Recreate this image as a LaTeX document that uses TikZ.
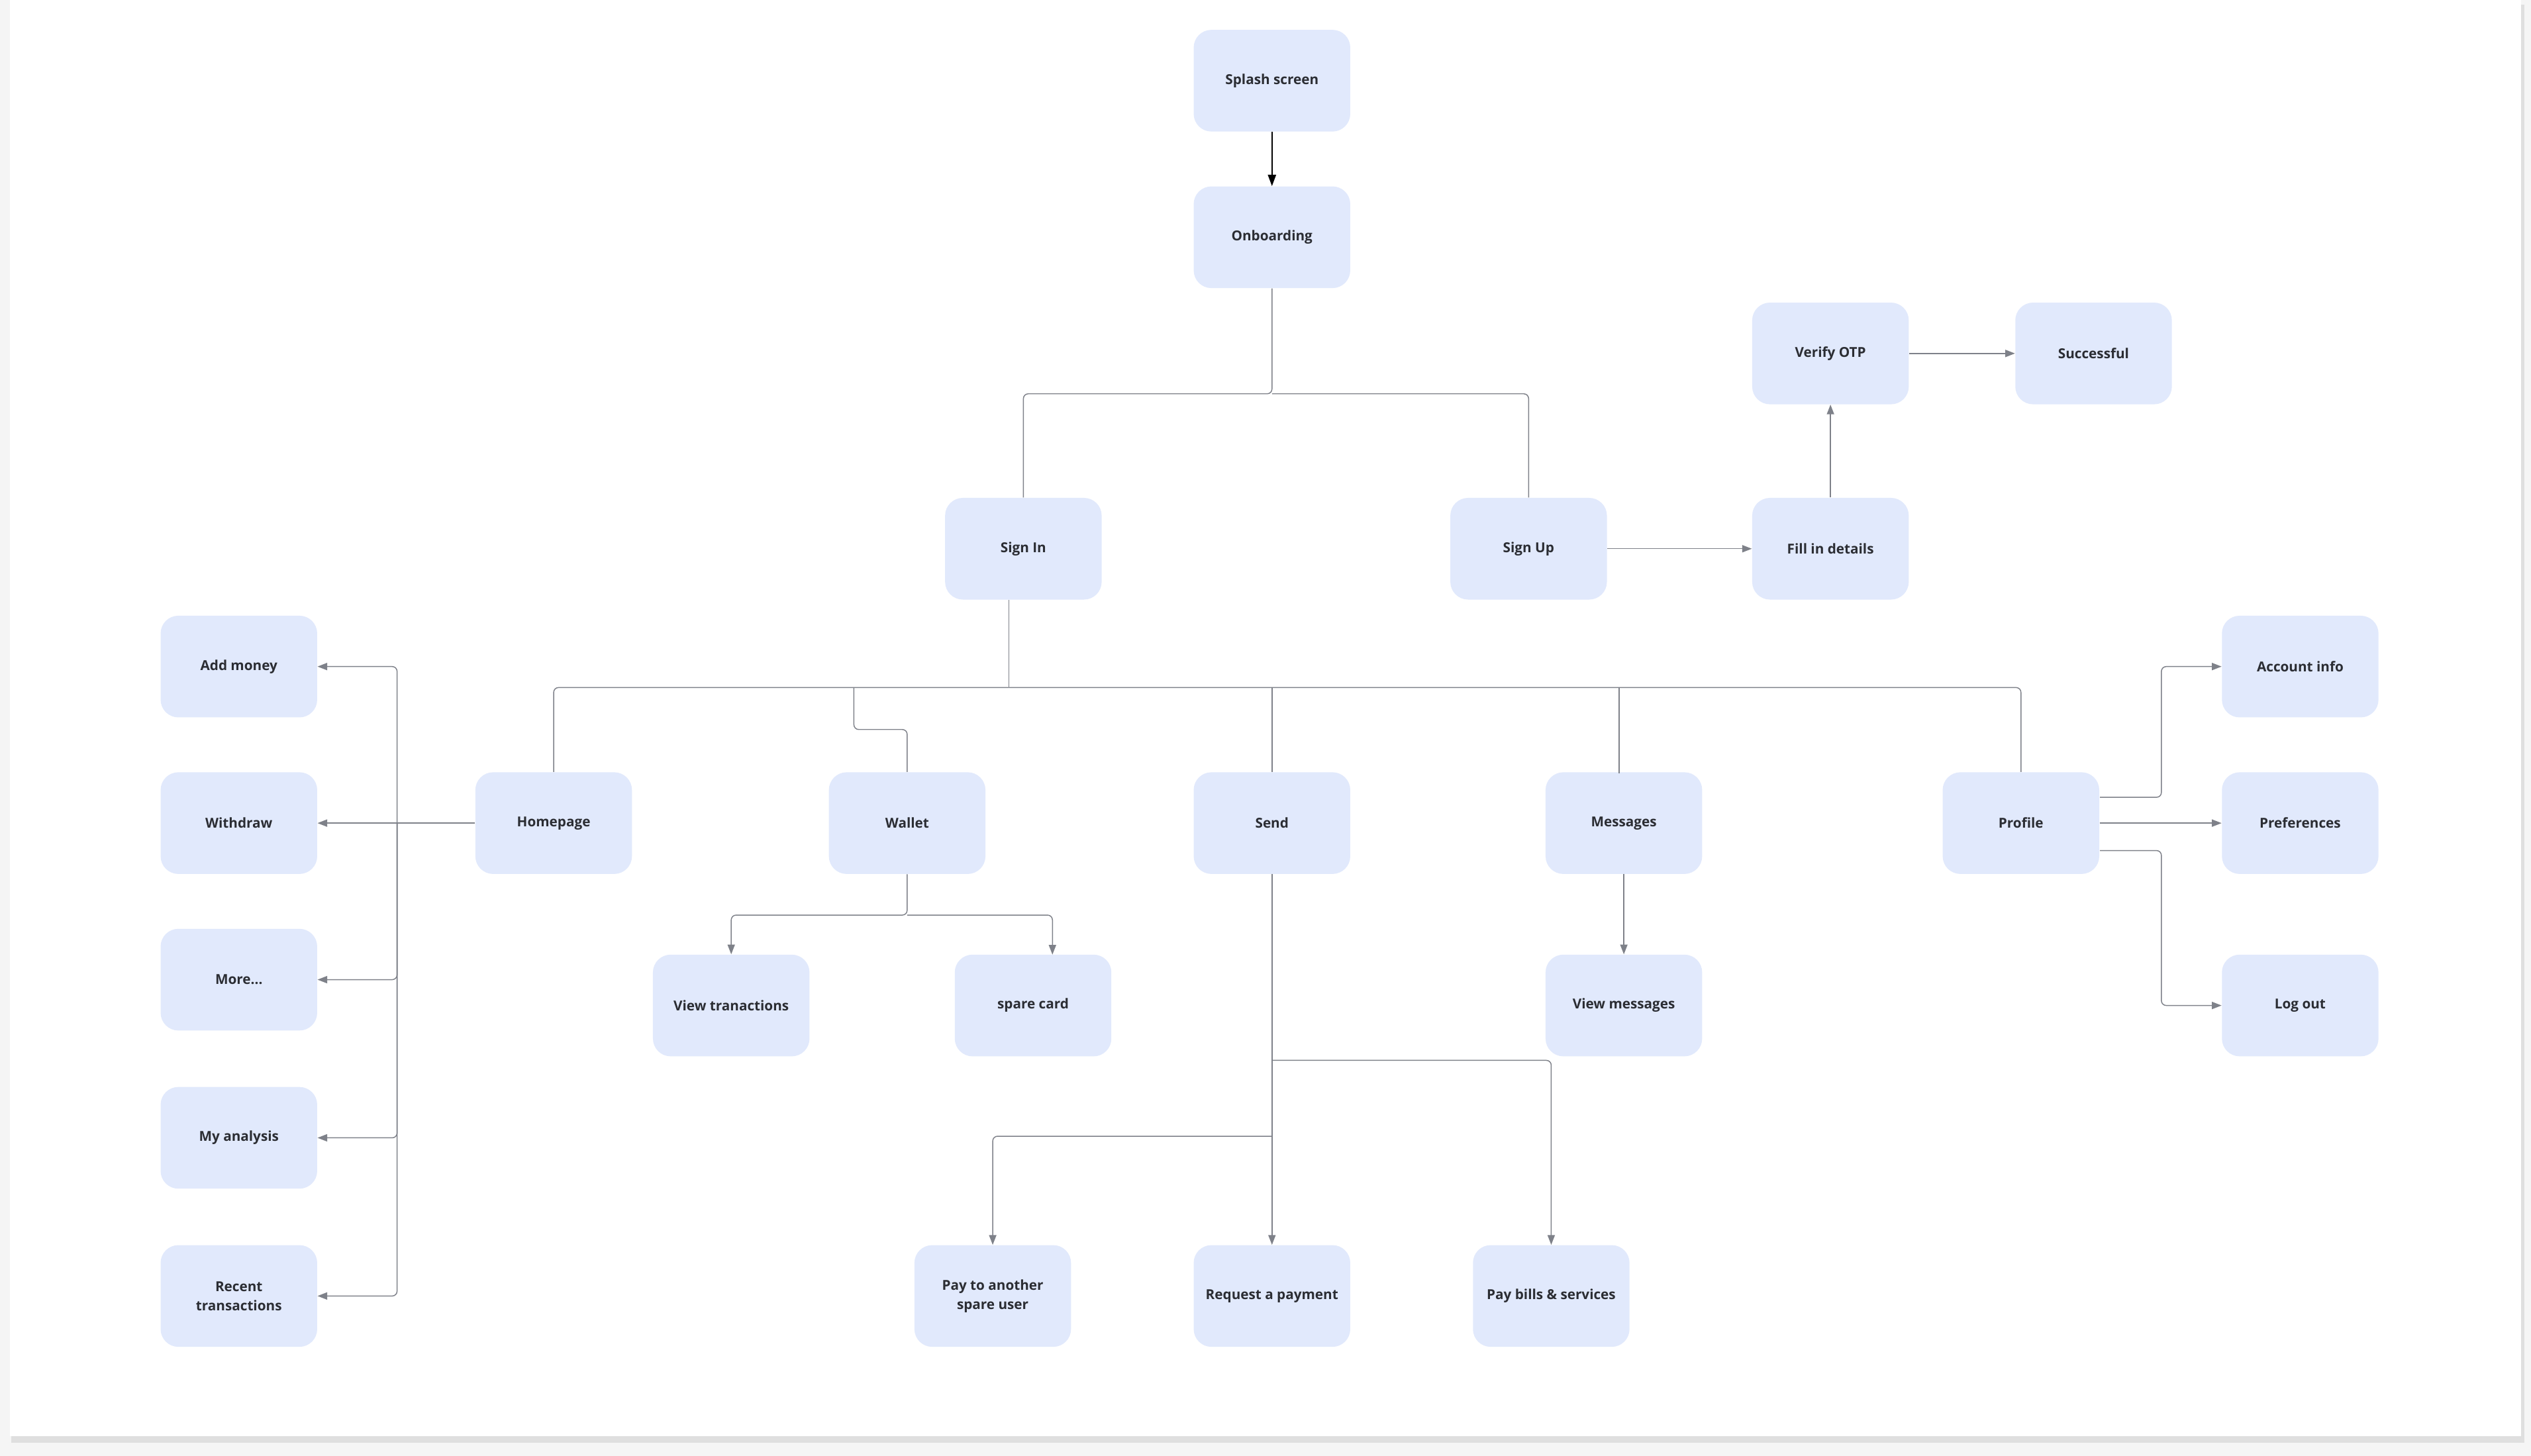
\documentclass[tikz,border=0pt]{standalone}
\usepackage{fontspec}
\setmainfont{Open Sans}
\usetikzlibrary{arrows.meta}
\definecolor{boxfill}{HTML}{E1E9FC}
\definecolor{txt}{HTML}{2B2D33}
\definecolor{ln}{HTML}{7E8189}
\begin{document}
\begin{tikzpicture}[x=1pt,y=-1pt,
  box/.style={fill=boxfill,rounded corners=11pt,minimum width=97pt,minimum height=63pt,align=center,font=\fontsize{8.5}{12}\selectfont\bfseries,text=txt,inner sep=2pt},
  conn/.style={draw=ln,line width=0.6pt,rounded corners=3pt},
  arr/.style={conn,-{Triangle[length=6pt,width=4.5pt]}}]
\useasboundingbox (0,0) rectangle (1568,902);
\fill[gray!8] (0,0) rectangle (1568,902);
\fill[gray!25] (7,3) rectangle (1564,894);
\fill[white] (6,0) rectangle (1562,890);
\node[box] (splash) at (788,50) {Splash screen};
\node[box] (onb) at (788,147) {Onboarding};
\node[box] (otp) at (1134,219) {Verify OTP};
\node[box] (succ) at (1297,219) {Successful};
\node[box] (signin) at (634,340) {Sign In};
\node[box] (signup) at (947,340) {Sign Up};
\node[box] (fill) at (1134,340) {Fill in details};
\node[box] (add) at (148,413) {Add money};
\node[box] (wd) at (148,510) {Withdraw};
\node[box] (more) at (148,607) {More...};
\node[box] (ana) at (148,705) {My analysis};
\node[box] (rec) at (148,803) {Recent\\transactions};
\node[box] (home) at (343,510) {Homepage};
\node[box] (wal) at (562,510) {Wallet};
\node[box] (send) at (788,510) {Send};
\node[box] (msg) at (1006,510) {Messages};
\node[box] (prof) at (1252,510) {Profile};
\node[box] (acc) at (1425,413) {Account info};
\node[box] (pref) at (1425,510) {Preferences};
\node[box] (logout) at (1425,623) {Log out};
\node[box] (vt) at (453,623) {View tranactions};
\node[box] (sc) at (640,623) {spare card};
\node[box] (vm) at (1006,623) {View messages};
\node[box] (pay) at (615,803) {Pay to another\\spare user};
\node[box] (req) at (788,803) {Request a payment};
\node[box] (bills) at (961,803) {Pay bills \& services};
% top
\draw[line width=0.8pt,-{Triangle[length=7pt,width=5pt]}] (splash) -- (onb);
\draw[conn] (onb.south) -- (788,244) -| (signin.north);
\draw[conn] (788,244) -| (signup.north);
\draw[arr] (signup) -- (fill);
\draw[arr] (fill) -- (otp);
\draw[arr] (otp) -- (succ);
% sign in bus
\coordinate (bus) at (625,426);
\draw[conn] (signin.south -| bus) -- (bus);
\draw[conn] (bus) -| (home.north);
\draw[conn] (bus) -| (prof.north);
\draw[conn] (529,426) -- (529,452) -| (wal.north);
\draw[conn] (788,426) -- (send.north);
\draw[conn] (1003,426) -- (1003,479);
% homepage
\coordinate (hb) at (246,510);
\draw[arr] (home.west) -- (wd.east);
\draw[arr] (hb) |- (add.east);
\draw[arr] (hb) |- (more.east);
\draw[arr] (hb) |- (ana.east);
\draw[arr] (hb) |- (rec.east);
% wallet
\draw[arr] (wal.south) -- (562,567) -| (vt.north);
\draw[arr] (562,567) -| (652,591.5);
% send
\draw[arr] (send.south) -- (req.north);
\draw[arr] (788,704) -| (pay.north);
\draw[arr] (788,657) -| (bills.north);
% messages
\draw[arr] (msg) -- (vm);
% profile
\draw[arr] (1301,494) -- (1339,494) |- (acc.west);
\draw[arr] (prof.east) -- (pref.west);
\draw[arr] (1301,527) -- (1339,527) |- (logout.west);
\end{tikzpicture}
\end{document}
